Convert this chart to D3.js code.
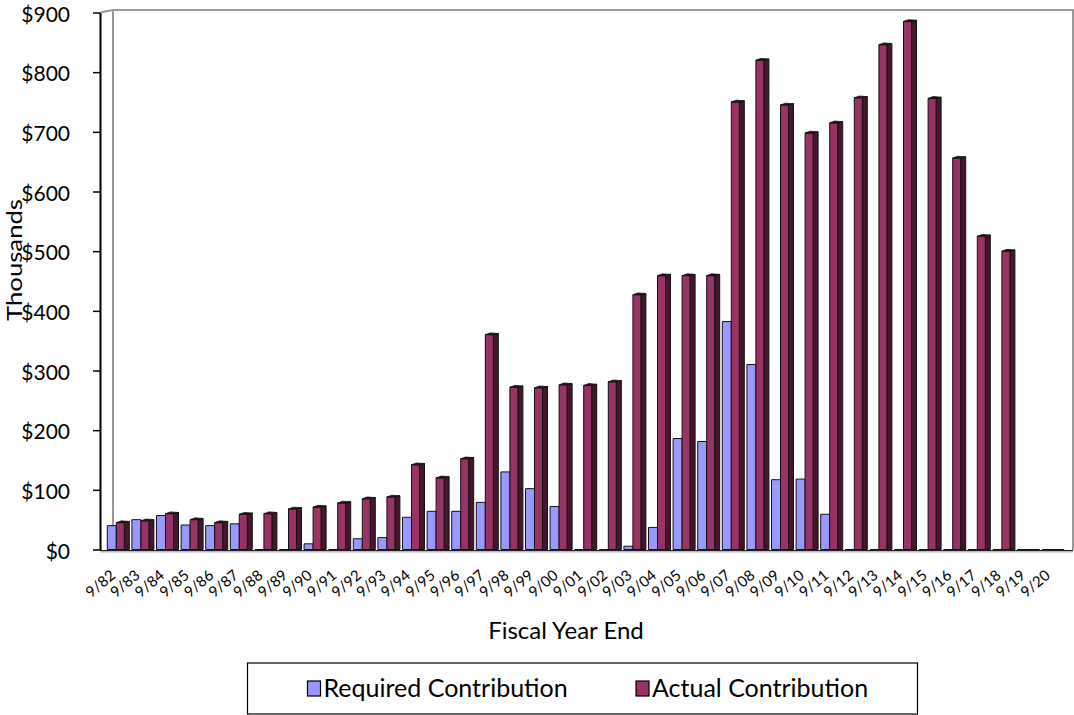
<!DOCTYPE html>
<html>
<head>
<meta charset="utf-8">
<script src="https://cdn.jsdelivr.net/npm/d3@7"></script>
<style>
  body { margin: 0; background: #fff; }
  text { font-family: Lato, 'Open Sans', sans-serif; fill: #000; }
</style>
</head>
<body>
<script>
// fiscal year labels
const years = ['9/82', '9/83', '9/84', '9/85', '9/86', '9/87', '9/88', '9/89', '9/90', '9/91',
  '9/92', '9/93', '9/94', '9/95', '9/96', '9/97', '9/98', '9/99', '9/00', '9/01',
  '9/02', '9/03', '9/04', '9/05', '9/06', '9/07', '9/08', '9/09', '9/10', '9/11',
  '9/12', '9/13', '9/14', '9/15', '9/16', '9/17', '9/18', '9/19', '9/20'];
// contributions, thousands of dollars
const required = [40, 50, 57, 41, 40, 43, 0, 0, 9.5, 0,
  18, 20, 54, 64, 64, 79, 130, 102, 72, 0,
  0, 5.5, 37, 186, 181, 382, 310, 117, 118, 59,
  0, 0, 0, 0, 0, 0, 0, 0, 0];
const actual = [45, 48, 60, 50, 45, 59, 60, 68, 71, 78,
  85, 88, 142, 120, 152, 360, 272, 271, 276, 275,
  281, 427, 459, 459, 459, 750, 820, 745, 698, 715,
  757, 846, 885, 756, 656, 525, 500, 0, 0];
const yTicks = [0, 100, 200, 300, 400, 500, 600, 700, 800, 900];
const seriesNames = ['Required Contribution', 'Actual Contribution'];

const W = 1074, H = 715;
const blue = '#9999ff', plum = '#993366', plumSide = '#45172e';

const svg = d3.select('body').append('svg').attr('width', W).attr('height', H);

const y = d3.scaleLinear().domain([0, 900]).range([549.5, 12.5]);
const x = d3.scaleBand().domain(years).range([106, 1065.4]).padding(0);

// bar outline as a path so that zero values still draw a line on the floor
const barPath = (x0, w, v) => `M${x0},${y(v)}h${w}V${y(0)}h${-w}Z`;

// back walls (3d frame)
const wall = svg.append('g').attr('stroke', '#999').attr('stroke-width', 2).attr('fill', 'none');
wall.append('path').attr('d', 'M113,549 L113,10 L1073,10 L1073,550');
wall.append('path').attr('d', 'M100,12.5 L113,10');

// floor
svg.append('line').attr('x1', 100).attr('x2', 1073).attr('y1', 551.5).attr('y2', 551.5)
  .attr('stroke', '#bbb').attr('stroke-width', 2);
svg.append('line').attr('x1', 100).attr('x2', 1073).attr('y1', 550.5).attr('y2', 550.5)
  .attr('stroke', '#222').attr('stroke-width', 1.2);

// y axis
const yAxis = svg.append('g')
  .attr('transform', 'translate(100,0)')
  .call(d3.axisLeft(y).tickValues(yTicks).tickFormat((d) => `$${d}`).tickSize(7).tickSizeOuter(0).tickPadding(23));
yAxis.select('.domain').attr('stroke', '#000').attr('stroke-width', 2);
yAxis.selectAll('.tick line').attr('stroke', '#000').attr('stroke-width', 1.5);
yAxis.selectAll('text')
  .attr('font-size', 21).attr('font-family', 'Lato').attr('fill', '#000')
  .attr('dy', '0.42em');

// bars
const groups = svg.append('g').selectAll('g')
  .data(years.map((yr, i) => ({ yr, req: required[i], act: actual[i] })))
  .join('g')
  .attr('transform', (d) => `translate(${x(d.yr)},0)`);

groups.append('path')
  .attr('d', (d) => barPath(1.3, 9, d.req))
  .attr('fill', blue).attr('stroke', '#111').attr('stroke-width', 1);

// actual: side face, front face, top cap
groups.filter((d) => d.act > 0).append('path')
  .attr('d', (d) => `M18.3,${y(d.act)}L23.3,${y(d.act) - 1.2}V${y(0)}H18.3Z`)
  .attr('fill', plumSide).attr('stroke', '#111').attr('stroke-width', 1);
groups.append('path')
  .attr('d', (d) => barPath(10.3, d.act > 0 ? 8 : 13, d.act))
  .attr('fill', plum).attr('stroke', '#111').attr('stroke-width', 1);
groups.filter((d) => d.act > 0).append('path')
  .attr('d', (d) => `M10.3,${y(d.act)}L18.3,${y(d.act)}L23.3,${y(d.act) - 1.2}L15.3,${y(d.act) - 1.8}Z`)
  .attr('fill', '#2a0d1c').attr('stroke', '#111').attr('stroke-width', 0.8);

// x labels
const xAxis = svg.append('g')
  .attr('transform', 'translate(0,550)')
  .call(d3.axisBottom(x).tickSize(0).tickPadding(0));
xAxis.select('.domain').remove();
xAxis.selectAll('text')
  .attr('y', 0).attr('dy', 0)
  .attr('text-anchor', 'end')
  .attr('transform', 'translate(-2,27) rotate(-40)')
  .attr('font-size', 15).attr('font-family', 'Lato').attr('fill', '#000');

// axis titles
svg.append('text')
  .attr('x', 566).attr('y', 639)
  .attr('text-anchor', 'middle')
  .attr('font-size', 24)
  .text('Fiscal Year End');

svg.append('text')
  .attr('transform', 'translate(22,260) rotate(-90)')
  .attr('text-anchor', 'middle')
  .attr('font-size', 21)
  .attr('textLength', 122)
  .attr('lengthAdjust', 'spacingAndGlyphs')
  .text('Thousands');

// legend
const legend = svg.append('g');
legend.append('rect')
  .attr('x', 247.5).attr('y', 663).attr('width', 670).attr('height', 51)
  .attr('fill', '#fff').attr('stroke', '#000').attr('stroke-width', 1.2);
const legendItems = legend.selectAll('g.item')
  .data(seriesNames.map((name, i) => ({ name, color: [blue, plum][i], x: [307.5, 636][i] })))
  .join('g').attr('class', 'item')
  .attr('transform', (d) => `translate(${d.x},0)`);
legendItems.append('rect')
  .attr('x', 0).attr('y', 681).attr('width', 13).attr('height', 15)
  .attr('fill', (d) => d.color).attr('stroke', '#000').attr('stroke-width', 1.2);
legendItems.append('text')
  .attr('x', 16).attr('y', 697)
  .attr('font-size', 25)
  .text((d) => d.name);
</script>
</body>
</html>
